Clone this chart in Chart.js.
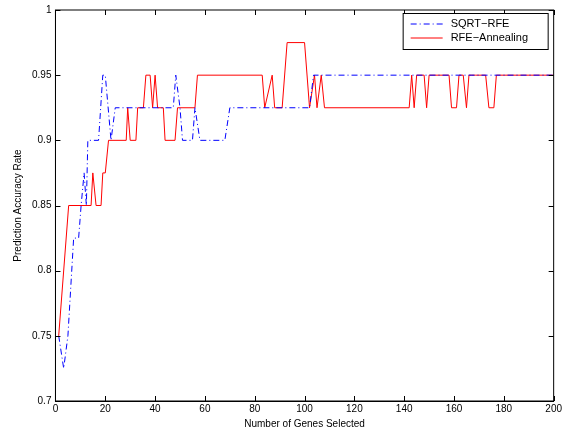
<!DOCTYPE html>
<html lang="en">
<head>
    <meta charset="UTF-8">
    <title>Prediction Accuracy</title>
    <script src="https://cdn.jsdelivr.net/npm/chart.js"></script>
    <style>
        body { margin: 0; background: #fff; }
        #wrap { width: 564px; height: 431px; }
    </style>
</head>
<body>
    <div id="wrap"><canvas id="accChart"></canvas></div>
    <script>
        const sqrtX = [1.3, 3.3, 5, 7.3, 9.3, 10.3, 11.5, 12.4, 13, 17.3, 19, 20, 22.3, 24, 47.3, 48.3, 50, 51, 55, 56, 58, 68, 70, 102, 103.6, 200];
        const sqrtY = [0.75, 0.725, 0.75, 0.825, 0.825, 0.85, 0.875, 0.85, 0.9, 0.9, 0.95, 0.95, 0.9, 0.925, 0.925, 0.95, 0.925, 0.9, 0.9, 0.925, 0.9, 0.9, 0.925, 0.925, 0.95, 0.95];
        const annX = [1.3, 5.3, 14.3, 15, 16.3, 18.3, 19, 20, 21.3, 28.4, 29, 30, 32.3, 33, 35.3, 36.3, 38, 39, 40, 41, 43.3, 44, 48, 49, 56, 57,
            83, 84, 87, 88, 91, 93, 100, 102, 104, 105, 106.7, 108, 142, 143, 144, 145, 148, 149, 150, 158, 159, 161, 162, 163.7, 165, 166, 167, 168.7, 172.7, 174, 176, 177, 200];
        const annY = [0.75, 0.85, 0.85, 0.875, 0.85, 0.85, 0.875, 0.875, 0.9, 0.9, 0.925, 0.9, 0.9, 0.925, 0.925, 0.95, 0.95, 0.925, 0.95, 0.925, 0.925, 0.9, 0.9, 0.925, 0.925, 0.95,
            0.95, 0.925, 0.95, 0.925, 0.925, 0.975, 0.975, 0.925, 0.95, 0.925, 0.95, 0.925, 0.925, 0.95, 0.925, 0.95, 0.95, 0.925, 0.95, 0.95, 0.925, 0.925, 0.95, 0.95, 0.925, 0.95, 0.95, 0.95, 0.95, 0.925, 0.925, 0.95, 0.95];
        const yTicks = [0.7, 0.75, 0.8, 0.85, 0.9, 0.95, 1];
        const seriesNames = ["SQRT\u2212RFE", "RFE\u2212Annealing"];

        const toPts = (xs, ys) => xs.map((x, i) => ({ x: x, y: ys[i] }));
        const FONT = "'Liberation Sans', Arial, sans-serif";

        // box frame, inward ticks and boxed legend, MATLAB style
        const frame = {
            id: 'frame',
            afterDraw(chart) {
                const { ctx, chartArea: a, scales } = chart;
                ctx.save();
                ctx.strokeStyle = '#000';
                ctx.lineWidth = 1;
                ctx.strokeRect(a.left, a.top, a.right - a.left, a.bottom - a.top);
                ctx.beginPath();
                scales.x.ticks.forEach(t => {
                    const px = Math.round(scales.x.getPixelForValue(t.value)) + 0.5;
                    ctx.moveTo(px, a.bottom); ctx.lineTo(px, a.bottom - 5);
                    ctx.moveTo(px, a.top); ctx.lineTo(px, a.top + 5);
                });
                scales.y.ticks.forEach(t => {
                    const py = Math.round(scales.y.getPixelForValue(t.value)) + 0.5;
                    ctx.moveTo(a.left, py); ctx.lineTo(a.left + 5, py);
                    ctx.moveTo(a.right, py); ctx.lineTo(a.right - 5, py);
                });
                ctx.stroke();
                const w = 145, h = 36, lx = a.right - w - 6, ly = a.top + 3;
                ctx.fillStyle = '#fff';
                ctx.fillRect(lx, ly, w, h);
                ctx.strokeRect(lx + 0.5, ly + 0.5, w, h);
                ctx.font = '11px ' + FONT;
                ctx.textBaseline = 'middle';
                chart.data.datasets.forEach((ds, i) => {
                    const yy = ly + 11 + i * 14;
                    ctx.strokeStyle = ds.borderColor;
                    ctx.setLineDash(ds.borderDash || []);
                    ctx.beginPath();
                    ctx.moveTo(lx + 8, yy);
                    ctx.lineTo(lx + 40, yy);
                    ctx.stroke();
                    ctx.setLineDash([]);
                    ctx.fillStyle = '#000';
                    ctx.fillText(ds.label, lx + 48, yy);
                });
                ctx.restore();
            }
        };

        new Chart(document.getElementById("accChart"), {
            type: 'line',
            data: {
                datasets: [{
                    label: seriesNames[0],
                    data: toPts(sqrtX, sqrtY),
                    borderColor: "#0000ff",
                    borderWidth: 1,
                    borderDash: [6, 3, 1, 3],
                    pointRadius: 0,
                    tension: 0
                }, {
                    label: seriesNames[1],
                    data: toPts(annX, annY),
                    borderColor: "#ff0000",
                    borderWidth: 1,
                    pointRadius: 0,
                    tension: 0
                }]
            },
            options: {
                responsive: true,
                maintainAspectRatio: false,
                animation: false,
                layout: { padding: { top: 7, right: 8, left: 12, bottom: 1 } },
                plugins: { legend: { display: false }, tooltip: { enabled: false } },
                scales: {
                    x: {
                        type: 'linear', min: 0, max: 200,
                        ticks: { stepSize: 20, color: '#000', font: { family: FONT, size: 10 }, padding: 2 },
                        grid: { display: false, drawTicks: false },
                        border: { color: '#000' },
                        title: { display: true, text: "Number of Genes Selected", color: '#000', font: { family: FONT, size: 10 }, padding: { top: 1, bottom: 0 } }
                    },
                    y: {
                        min: 0.7, max: 1,
                        afterBuildTicks: (s) => { s.ticks = yTicks.map(v => ({ value: v })); },
                        ticks: { color: '#000', font: { family: FONT, size: 10 }, padding: 4, callback: v => String(+v.toFixed(2)) },
                        grid: { display: false, drawTicks: false },
                        border: { color: '#000' },
                        title: { display: true, text: "Prediction Accuracy Rate", color: '#000', font: { family: FONT, size: 10 }, padding: { top: 0, bottom: 4 } }
                    }
                }
            },
            plugins: [frame]
        });
    </script>
</body>
</html>
